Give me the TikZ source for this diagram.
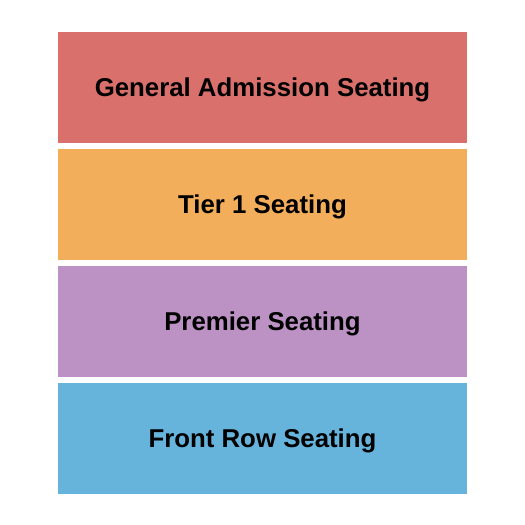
\documentclass[tikz,border=0pt]{standalone}
\usepackage{fontspec}
\setmainfont{Liberation Sans}
\usetikzlibrary{positioning}
\definecolor{gacol}{RGB}{217,112,108}
\definecolor{tiercol}{RGB}{242,174,90}
\definecolor{premcol}{RGB}{188,146,196}
\definecolor{frontcol}{RGB}{102,180,220}
\tikzstyle{seat} = [rectangle, draw=none, inner sep=0pt, minimum width=409pt, minimum height=110.5pt, font=\fontsize{25.8}{30}\selectfont\bfseries, text height=18.5pt, text depth=0pt]

\begin{document}
\begin{tikzpicture}[node distance=6.2pt]
\useasboundingbox (0,0) rectangle (525pt,-525pt);
\node[seat, fill=gacol] (ga) at (262.5pt,-87.25pt) {General Admission Seating};
\node[seat, fill=tiercol, below=of ga] (t1) {Tier 1 Seating};
\node[seat, fill=premcol, below=of t1] (pr) {Premier Seating};
\node[seat, fill=frontcol, below=of pr] (fr) {Front Row Seating};
\end{tikzpicture}
\end{document}
